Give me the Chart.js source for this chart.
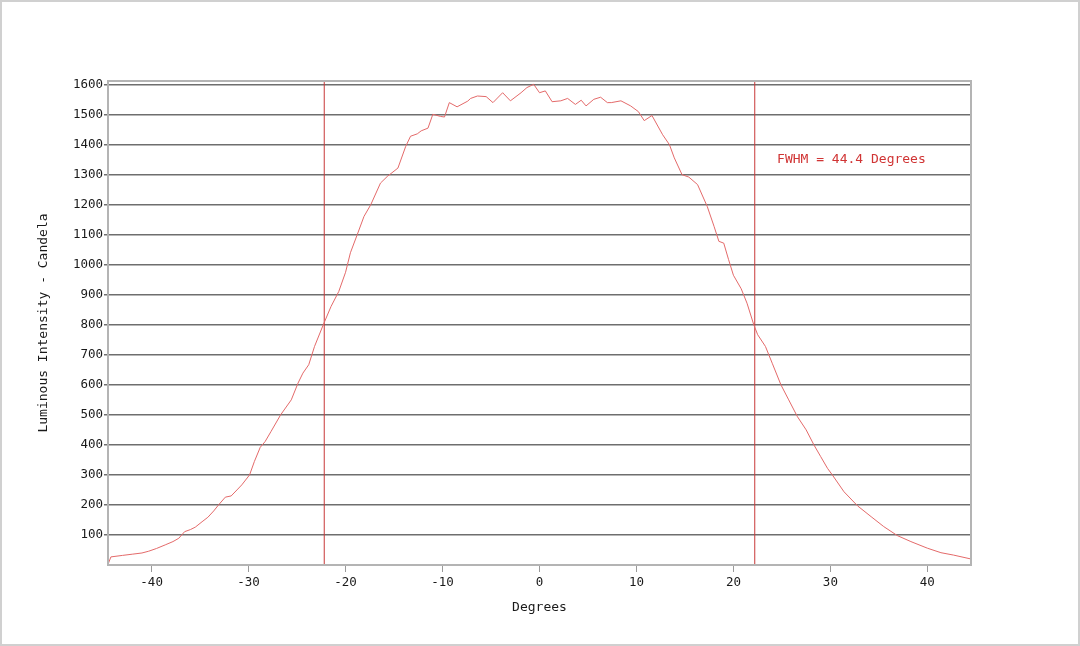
<!DOCTYPE html>
<html>
<head>
<meta charset="utf-8">
<script src="https://cdn.jsdelivr.net/npm/chart.js@4/dist/chart.umd.min.js"></script>
<style>
  html, body { margin: 0; padding: 0; background: #fff; }
  #wrap { width: 1080px; height: 646px; }
</style>
</head>
<body>
<div id="wrap"><canvas id="chart" width="1080" height="646"></canvas></div>
<script>
// ===================== DATA =====================

const degrees = [
  -44.5, -44.2, -43.0, -42.0, -41.0, -40.3, -39.5, -38.6, -37.8, -37.2,
  -36.6, -36.0, -35.5, -34.8, -34.2, -33.6, -33.1, -32.4, -31.8, -31.2,
  -30.7, -29.9, -29.4, -28.8, -28.3, -27.7, -26.7, -25.6, -24.9, -24.4,
  -23.8, -23.2, -22.3, -21.5, -20.7, -20.0, -19.5, -18.8, -18.1, -17.4,
  -16.4, -15.7, -14.6, -13.8, -13.3, -12.6, -12.2, -11.5, -11.0, -10.2,
  -9.8, -9.3, -8.5, -7.4, -7.1, -6.4, -5.5, -4.8, -3.8, -3.0,
  -1.9, -1.3, -0.6, 0.0, 0.6, 1.3, 2.2, 2.9, 3.7, 4.3,
  4.8, 5.6, 6.3, 7.0, 7.4, 8.4, 9.4, 10.2, 10.8, 11.6,
  12.2, 12.7, 13.4, 13.9, 14.7, 15.4, 16.3, 17.3, 18.0, 18.5,
  19.0, 19.5, 20.0, 20.8, 21.4, 22.1, 22.5, 23.3, 24.0, 24.9,
  25.7, 26.6, 27.5, 28.3, 29.0, 29.7, 30.2, 31.4, 32.8, 34.2,
  35.5, 36.9, 38.3, 40.0, 41.4, 42.7, 44.5
];

const intensity = [
  2, 27, 32, 36, 40, 46, 55, 67, 78, 89,
  111, 118, 126, 144, 159, 180, 200, 226, 230, 250,
  267, 300, 345, 392, 411, 444, 500, 550, 606, 639,
  667, 728, 800, 861, 911, 975, 1040, 1100, 1161, 1200,
  1272, 1294, 1322, 1394, 1428, 1436, 1446, 1455, 1501, 1494,
  1492, 1540, 1526, 1545, 1554, 1562, 1560, 1540, 1573, 1546,
  1573, 1590, 1601, 1573, 1579, 1543, 1546, 1554, 1534, 1548,
  1529, 1551, 1558, 1540, 1540, 1546, 1529, 1510, 1480, 1497,
  1462, 1433, 1400, 1356, 1300, 1292, 1267, 1194, 1128, 1078,
  1072, 1017, 965, 920, 872, 800, 767, 728, 672, 600,
  550, 494, 450, 400, 361, 322, 300, 244, 197, 161,
  128, 98, 78, 56, 41, 33, 20
];

const fwhmEdges = [-22.2, 22.2];
const fwhmLabel = "FWHM = 44.4 Degrees";
const fwhmLabelAt = [24.5, 1350];

const xTicks = [-40, -30, -20, -10, 0, 10, 20, 30, 40];
const yTicks = [100, 200, 300, 400, 500, 600, 700, 800, 900, 1000, 1100, 1200, 1300, 1400, 1500, 1600];

const xRange = [-44.5, 44.5];
const yRange = [0, 1612];

// ===================== CHART =====================

const mono = "'DejaVu Sans Mono', 'Liberation Mono', monospace";

const curve = degrees.map((d, i) => ({ x: d, y: intensity[i] }));
const edgeSets = fwhmEdges.map((d) => ({
  data: [{ x: d, y: yRange[0] }, { x: d, y: yRange[1] }],
  borderColor: "#c83838",
  borderWidth: 1,
  pointRadius: 0,
  tension: 0,
}));

const frame = {
  id: "frame",
  beforeDraw(chart) {
    const c = chart.ctx;
    c.save();
    c.fillStyle = "#fff";
    c.fillRect(0, 0, chart.width, chart.height);
    c.strokeStyle = "#d0d0d0";
    c.lineWidth = 2;
    c.strokeRect(1, 1, chart.width - 2, chart.height - 2);
    c.restore();
  },
  afterDraw(chart) {
    const a = chart.chartArea;
    const c = chart.ctx;
    c.save();
    c.strokeStyle = "#b4b4b4";
    c.lineWidth = 2;
    c.strokeRect(a.left, a.top, a.right - a.left, a.bottom - a.top);
    // label
    const x = chart.scales.x.getPixelForValue(fwhmLabelAt[0]);
    const y = chart.scales.y.getPixelForValue(fwhmLabelAt[1]);
    c.fillStyle = "#d03434";
    c.font = "13px " + mono;
    c.textAlign = "left";
    c.textBaseline = "middle";
    c.fillText(fwhmLabel, x, y);
    c.restore();
  },
};

new Chart(document.getElementById("chart"), {
  type: "line",
  data: {
    datasets: [
      {
        data: curve,
        borderColor: "#e46a6a",
        borderWidth: 1,
        pointRadius: 0,
        tension: 0,
      },
      ...edgeSets,
    ],
  },
  options: {
    responsive: false,
    animation: false,
    layout: { padding: { left: 0, top: 81, right: 109, bottom: 0 } },
    plugins: { legend: { display: false }, tooltip: { enabled: false } },
    scales: {
      x: {
        type: "linear",
        min: xRange[0],
        max: xRange[1],
        afterBuildTicks: (s) => { s.ticks = xTicks.map((v) => ({ value: v })); },
        afterFit: (s) => { s.height = 81; },
        grid: { drawOnChartArea: false, drawTicks: true, tickLength: 7, color: "#9a9a9a", lineWidth: 1 },
        border: { display: true, color: "#b4b4b4", width: 2 },
        ticks: {
          color: "#1a1a1a",
          font: { family: mono, size: 12.5 },
          padding: 3,
          maxRotation: 0,
          callback: (v) => String(v),
        },
        title: {
          display: true,
          text: "Degrees",
          color: "#1a1a1a",
          font: { family: mono, size: 13 },
          padding: { top: 0, bottom: 31 },
        },
      },
      y: {
        type: "linear",
        min: yRange[0],
        max: yRange[1],
        afterBuildTicks: (s) => { s.ticks = yTicks.map((v) => ({ value: v })); },
        afterFit: (s) => { s.width = 108; },
        grid: { color: "#6e6e6e", lineWidth: 1.5, tickLength: 4 },
        border: { display: true, color: "#b4b4b4", width: 2 },
        ticks: {
          color: "#1a1a1a",
          font: { family: mono, size: 12.5 },
          padding: 1,
          callback: (v) => String(v),
        },
        title: {
          display: true,
          text: "Luminous Intensity - Candela",
          color: "#1a1a1a",
          font: { family: mono, size: 13 },
          padding: { top: 36, bottom: 0 },
        },
      },
    },
  },
  plugins: [frame],
});
</script>
</body>
</html>
